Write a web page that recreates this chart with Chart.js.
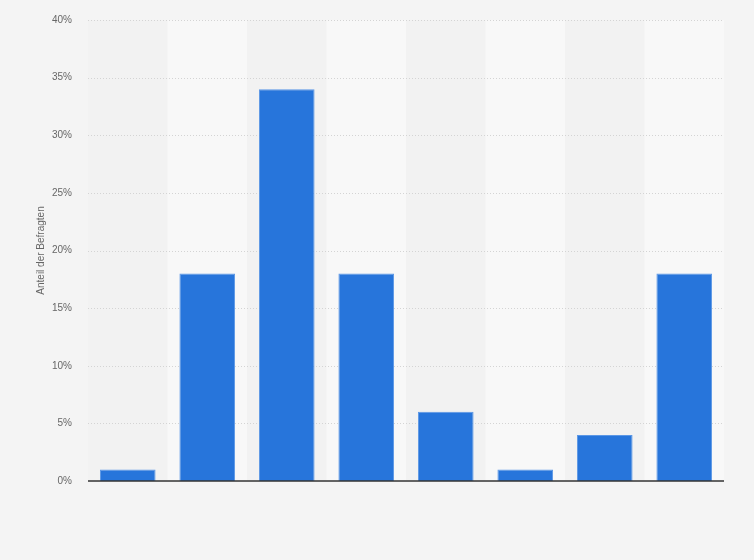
<!DOCTYPE html>
<html>
<head>
<meta charset="utf-8">
<script src="https://cdn.jsdelivr.net/npm/chart.js"></script>
<style>
html, body { margin: 0; padding: 0; background: #f4f4f4; }
#wrap { width: 754px; height: 560px; }
</style>
</head>
<body>
<div id="wrap"><canvas id="chart"></canvas></div>
<script>
// categories have no visible labels in the picture
const categories = ['1', '2', '3', '4', '5', '6', '7', '8'];
const shares = [1, 18, 34, 18, 6, 1, 4, 18];
const yTicks = [0, 5, 10, 15, 20, 25, 30, 35, 40];

// light bands behind every second category
const bands = {
  id: 'bands',
  beforeDatasetsDraw(chart) {
    const { ctx, chartArea, scales } = chart;
    const x = scales.x;
    const step = x.getPixelForValue(1) - x.getPixelForValue(0);
    ctx.save();
    categories.forEach((c, i) => {
      const cx = x.getPixelForValue(i);
      ctx.fillStyle = i % 2 ? '#f8f8f8' : '#f2f2f2';
      ctx.fillRect(cx - step / 2, chartArea.top, step, chartArea.bottom - chartArea.top);
    });
    ctx.restore();
  }
};

// dotted grid above the bands
const grid = {
  id: 'grid',
  beforeDatasetsDraw(chart) {
    const { ctx, chartArea, scales } = chart;
    ctx.save();
    ctx.strokeStyle = '#d4d4d4';
    ctx.lineWidth = 1;
    ctx.setLineDash([1, 2]);
    yTicks.forEach(v => {
      if (v === 0) return;
      const y = Math.round(scales.y.getPixelForValue(v)) + 0.5;
      ctx.beginPath();
      ctx.moveTo(chartArea.left, y);
      ctx.lineTo(chartArea.right, y);
      ctx.stroke();
    });
    ctx.restore();
  }
};

// dark base line at 0
const baseLine = {
  id: 'baseLine',
  afterDatasetsDraw(chart) {
    const { ctx, chartArea, scales } = chart;
    const y = scales.y.getPixelForValue(0);
    ctx.save();
    ctx.strokeStyle = '#333333';
    ctx.lineWidth = 1.5;
    ctx.beginPath();
    ctx.moveTo(chartArea.left, y);
    ctx.lineTo(chartArea.right, y);
    ctx.stroke();
    ctx.restore();
  }
};

new Chart(document.getElementById('chart'), {
  type: 'bar',
  data: {
    labels: categories,
    datasets: [{
      data: shares,
      backgroundColor: '#2775db',
      borderColor: '#5b97e6',
      borderWidth: { top: 1, left: 1, right: 1, bottom: 0 },
      barPercentage: 0.7,
      categoryPercentage: 1
    }]
  },
  plugins: [bands, grid, baseLine],
  options: {
    responsive: true,
    maintainAspectRatio: false,
    animation: false,
    layout: { padding: { top: 20, right: 30, bottom: 79, left: 35 } },
    plugins: { legend: { display: false }, tooltip: { enabled: false } },
    scales: {
      x: {
        ticks: { display: false },
        grid: { display: false, drawTicks: false },
        border: { display: false }
      },
      y: {
        min: 0,
        max: 40,
        afterBuildTicks: s => { s.ticks = yTicks.map(v => ({ value: v })); },
        afterFit: s => { s.width = 53; s.paddingTop = 0; s.paddingBottom = 0; },
        ticks: {
          callback: v => v + '%',
          color: '#666666',
          font: { family: 'Arial, Liberation Sans', size: 10 },
          padding: 16
        },
        grid: { display: false, drawTicks: false },
        border: { display: false },
        title: {
          display: true,
          text: 'Anteil der Befragten',
          color: '#666666',
          font: { family: 'Arial, Liberation Sans', size: 10 },
          padding: { top: 0, bottom: 6 }
        }
      }
    }
  }
});
</script>
</body>
</html>
